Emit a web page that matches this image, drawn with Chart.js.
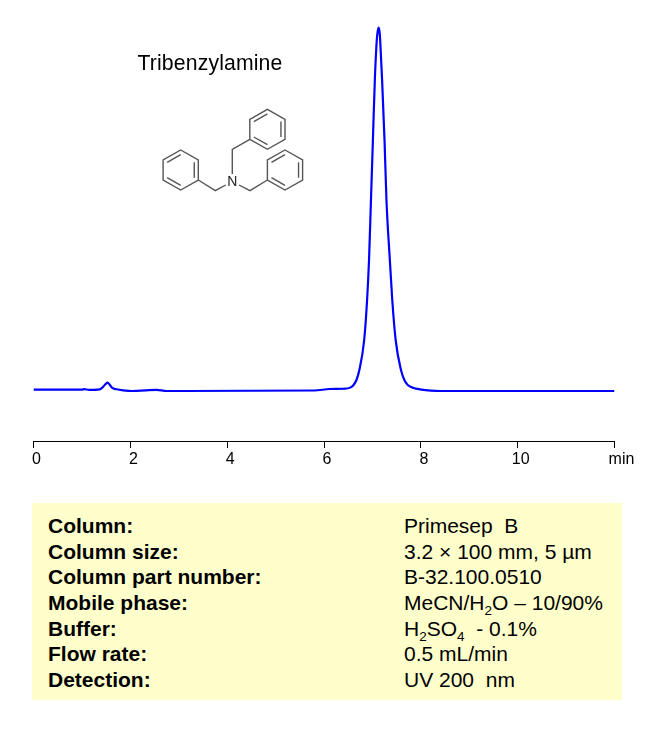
<!DOCTYPE html>
<html>
<head>
<meta charset="utf-8">
<title>Tribenzylamine</title>
<script src="https://cdn.jsdelivr.net/npm/chart.js@4"></script>
<style>
    html, body { margin: 0; padding: 0; background: #fff; }
    body { width: 670px; height: 746px; position: relative; overflow: hidden; font-family: "Liberation Sans", Arial, sans-serif; color: #000; }
    #chart { position: absolute; left: 0; top: 0; }
    #name { position: absolute; left: 137.5px; top: 50px; font-size: 21.2px; letter-spacing: 0.15px; line-height: 26px; }
    #structure { position: absolute; left: 0; top: 0; }
    #info { position: absolute; left: 32px; top: 503px; width: 590px; height: 197px; background: #ffffcc; }
    .row { position: absolute; white-space: pre; font-size: 21px; line-height: 26px; }
    .key { left: 16px; font-weight: bold; }
    .val { left: 372px; }
    sub { font-size: 13.5px; line-height: 0; }
</style>
</head>
<body>
<canvas id="chart" width="670" height="480"></canvas>
<div id="name">Tribenzylamine</div>
<svg id="structure" width="670" height="240" fill="none" stroke="#555" stroke-width="1.4"></svg>
<div id="info"></div>

<script>
// retention time in minutes and detector signal
const times = [0, 1.0, 1.04, 1.15, 1.37, 1.44, 1.49, 1.53, 1.57, 1.62, 1.72, 1.85, 2.05, 2.32, 2.54, 2.75, 5.8,
    6.12, 6.47, 6.55, 6.61, 6.67, 6.73, 6.83, 6.89, 6.93, 6.97, 7.01, 7.05, 7.09, 7.11, 7.13, 7.15, 7.16, 7.20, 7.25, 7.29,
    7.36, 7.41, 7.48, 7.59, 7.66, 7.73, 7.85, 7.98, 8.4, 12];
const signal = [1.3, 1.3, 1.8, 1.2, 1.7, 4.3, 7, 8.3, 6.5, 3.3, 1.7, 0.7, 0, 0.7, 1.2, 0, 0.5,
    2, 2.5, 3.6, 6, 11, 21, 51, 91, 131, 191, 251, 311, 351, 360, 363.5, 358, 351, 311, 251, 191,
    131, 91, 51, 21, 11, 6, 3, 1.7, 0, 0];
const tickLabels = ['0', '2', '4', '6', '8', '10', ''];

const paramLabels = ['Column:', 'Column size:', 'Column part number:', 'Mobile phase:', 'Buffer:', 'Flow rate:', 'Detection:'];
const paramValues = ['Primesep  B', '3.2 × 100 mm, 5 µm', 'B-32.100.0510', 'MeCN/H<sub>2</sub>O – 10/90%',
    'H<sub>2</sub>SO<sub>4</sub>  - 0.1%', '0.5 mL/min', 'UV 200  nm'];

window.onload = function() {
    createChart();
    drawStructure();
    fillInfo();
};

// the "min" unit sits next to the last tick
const unitLabel = {
    id: 'unitLabel',
    afterDraw(chart) {
        const ctx = chart.ctx;
        ctx.save();
        ctx.font = '16px "Liberation Sans"';
        ctx.fillStyle = '#000';
        ctx.textAlign = 'center';
        ctx.textBaseline = 'middle';
        ctx.fillText('min', chart.scales.x.getPixelForValue(12) + 7, 460);
        ctx.restore();
    }
};

function createChart() {
    const ctx = document.getElementById('chart').getContext('2d');
    new Chart(ctx, {
        type: 'line',
        data: {
            datasets: [{
                data: times.map((t, i) => ({ x: t, y: signal[i] })),
                borderColor: '#0000ff',
                borderWidth: 2.2,
                pointRadius: 0,
                cubicInterpolationMode: 'monotone'
            }]
        },
        options: {
            responsive: false,
            animation: false,
            layout: { padding: { left: 33.5, right: 55.5, top: 10, bottom: 0 } },
            plugins: { legend: { display: false }, tooltip: { enabled: false } },
            scales: {
                x: {
                    type: 'linear',
                    min: 0,
                    max: 12,
                    afterFit: (scale) => { scale.height = 39; },
                    afterBuildTicks: (scale) => {
                        scale.ticks = tickLabels.map((l, i) => ({ value: i * 2 }));
                    },
                    border: { color: '#000', width: 1 },
                    grid: { drawOnChartArea: false, color: '#000', tickLength: 7 },
                    ticks: {
                        autoSkip: false,
                        maxRotation: 0,
                        color: '#000',
                        padding: 2,
                        labelOffset: 3,
                        font: { family: '"Liberation Sans"', size: 16 },
                        callback: (v) => tickLabels[v / 2]
                    }
                },
                y: { display: false, min: -50, max: 381 }
            }
        },
        plugins: [unitLabel]
    });
}

// benzene ring from its corner points, inner lines on three sides
function ring(svg, cx, cy) {
    const pts = [[0, -20], [17.6, -10], [17.6, 10], [0, 20], [-17.6, 10], [-17.6, -10]];
    let d = '';
    pts.forEach((p, i) => { d += (i ? 'L' : 'M') + (cx + p[0]) + ' ' + (cy + p[1]); });
    addPath(svg, d + 'Z');
    [[1, 2], [3, 4], [5, 0]].forEach(([a, b]) => {
        const ax = cx + pts[a][0] * 0.77, ay = cy + pts[a][1] * 0.77;
        const bx = cx + pts[b][0] * 0.77, by = cy + pts[b][1] * 0.77;
        addPath(svg, 'M' + ax + ' ' + ay + 'L' + bx + ' ' + by);
    });
}

function addPath(svg, d) {
    const p = document.createElementNS('http://www.w3.org/2000/svg', 'path');
    p.setAttribute('d', d);
    svg.appendChild(p);
}

function drawStructure() {
    const svg = document.getElementById('structure');
    ring(svg, 267.4, 129.3);
    ring(svg, 180.7, 170);
    ring(svg, 285, 170);
    addPath(svg, 'M249.8 139.3L232.3 149.3L232.3 174');
    addPath(svg, 'M225.7 185L215.3 190.7L198.3 180');
    addPath(svg, 'M239 185L250 190.7L267.4 180');
    const n = document.createElementNS('http://www.w3.org/2000/svg', 'text');
    n.setAttribute('x', 232.3);
    n.setAttribute('y', 186);
    n.setAttribute('text-anchor', 'middle');
    n.setAttribute('font-size', '14');
    n.setAttribute('fill', '#222');
    n.setAttribute('stroke', 'none');
    n.textContent = 'N';
    svg.appendChild(n);
}

function fillInfo() {
    const box = document.getElementById('info');
    paramLabels.forEach((label, i) => {
        const top = 10 + i * 25.67;
        const k = document.createElement('div');
        k.className = 'row key';
        k.style.top = top + 'px';
        k.textContent = label;
        const v = document.createElement('div');
        v.className = 'row val';
        v.style.top = top + 'px';
        v.innerHTML = paramValues[i];
        box.appendChild(k);
        box.appendChild(v);
    });
}
</script>
</body>
</html>
